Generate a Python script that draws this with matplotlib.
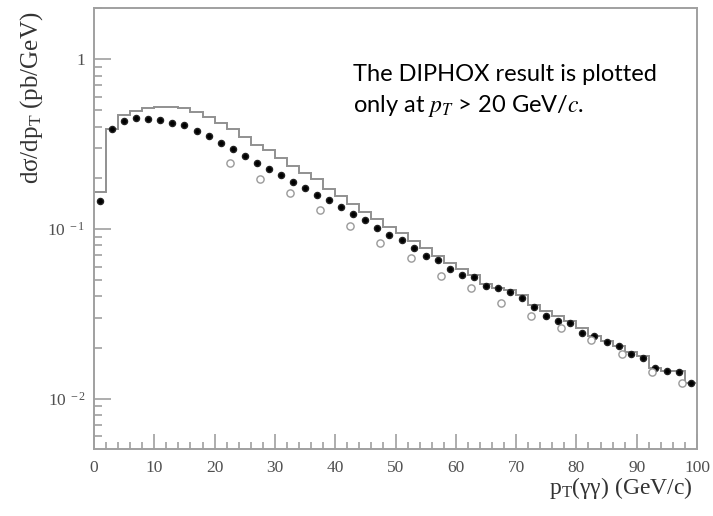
import numpy as np
import matplotlib
matplotlib.use("Agg")
import matplotlib.pyplot as plt
from matplotlib.ticker import FixedLocator, FixedFormatter, MultipleLocator, NullFormatter

plt.rcParams['mathtext.fontset'] = 'stix'
plt.rcParams['font.family'] = ['Liberation Serif', 'DejaVu Serif']

# ---- data ----
bin_edges = np.arange(0, 101, 2)
hist_values = [0.164, 0.386, 0.467, 0.495, 0.512, 0.519, 0.519, 0.512, 0.485, 0.453,
               0.423, 0.390, 0.348, 0.312, 0.290, 0.263, 0.235, 0.214, 0.196, 0.171,
               0.156, 0.140, 0.126, 0.115, 0.103, 0.0950, 0.0848, 0.0775, 0.0691, 0.0632,
               0.0577, 0.0532, 0.0475, 0.0450, 0.0434, 0.0407, 0.0355, 0.0328, 0.0306, 0.0286,
               0.0259, 0.0235, 0.0218, 0.0205, 0.0188, 0.0178, 0.0152, 0.0145, 0.0145, 0.0124]
dot_x = np.arange(1, 100, 2)
dot_values = [0.146, 0.386, 0.429, 0.449, 0.443, 0.438, 0.423, 0.408, 0.378, 0.353,
              0.322, 0.295, 0.269, 0.246, 0.224, 0.208, 0.189, 0.174, 0.159, 0.148,
              0.135, 0.122, 0.113, 0.101, 0.0924, 0.0856, 0.0767, 0.0691, 0.0652, 0.0577,
              0.0532, 0.0518, 0.0460, 0.0450, 0.0426, 0.0392, 0.0346, 0.0306, 0.0286, 0.0280,
              0.0244, 0.0235, 0.0217, 0.0203, 0.0183, 0.0174, 0.0151, 0.0145, 0.0144, 0.0123]
diphox_x = np.arange(22.5, 100, 5)
diphox_values = [0.246, 0.196, 0.162, 0.129, 0.104, 0.082, 0.0673, 0.0525,
                 0.0448, 0.0367, 0.0306, 0.0259, 0.0221, 0.0184, 0.0143, 0.0124]
x_ticks = [0, 10, 20, 30, 40, 50, 60, 70, 80, 90, 100]
y_ticks = [0.01, 0.1, 1]
y_ticklabels = [r'$\mathregular{10^{\ -2}}$', r'$\mathregular{10^{\ -1}}$', '1']

W, H = 713, 516
fig = plt.figure(figsize=(W / 100, H / 100), dpi=100)
ax = fig.add_axes([94 / W, 1 - 449 / H, (697 - 94) / W, (449 - 8) / H])

axis_col = '#a0a0a0'
ax.stairs(hist_values, bin_edges, color='#909090', lw=1.4, baseline=None)
ax.plot(dot_x, dot_values, 'o', ms=4.4, color='black', mec='#222222', zorder=3)
ax.plot(diphox_x, diphox_values, 'o', ms=5.2, mfc='white', mec='#9a9a9a', mew=1.0, zorder=3)

ax.set_yscale('log')
ax.set_xlim(0, 100)
ax.set_ylim(0.00505, 2.0)

for s in ax.spines.values():
    s.set_color(axis_col)
    s.set_linewidth(1.4)

ax.xaxis.set_major_locator(FixedLocator(x_ticks))
ax.xaxis.set_minor_locator(MultipleLocator(2))
ax.yaxis.set_major_locator(FixedLocator(y_ticks))
ax.yaxis.set_major_formatter(FixedFormatter(y_ticklabels))
ax.yaxis.set_minor_locator(FixedLocator([m * 10.0 ** k for k in (-3, -2, -1, 0) for m in range(2, 10)]))
ax.yaxis.set_minor_formatter(NullFormatter())

ax.tick_params(axis='both', which='both', direction='in', color=axis_col, width=1.2,
               top=False, right=False, labelcolor='#505050')
ax.tick_params(axis='y', which='major', length=12, pad=6)
ax.tick_params(axis='y', which='minor', length=6)
ax.tick_params(axis='x', which='major', length=11, pad=8)
ax.tick_params(axis='x', which='minor', length=5)
for lab in ax.get_xticklabels() + ax.get_yticklabels():
    lab.set_fontfamily('Liberation Serif')
    lab.set_fontsize(12.5)

fig.text(32 / W, 1 - 98 / H, 'dσ/d' + r'$\mathregular{p_T}$' + ' (pb/GeV)', rotation=90,
         ha='center', va='center', fontsize=18, color='#333333')
fig.text(693 / W, 1 - 488 / H, r'$\mathregular{p_T}$' + '(γγ) (GeV/c)',
         ha='right', va='center', fontsize=17, color='#333333')

fig.text(353 / W, 1 - 81 / H, 'The DIPHOX result is plotted', ha='left', va='baseline',
         fontsize=17, family='Lato', color='black')
fig.text(353 / W, 1 - 112 / H, r'only at $p_T$ > 20 GeV/$c$.', ha='left', va='baseline',
         fontsize=17, family='Lato', color='black')

fig.savefig('out.png', dpi=100)
